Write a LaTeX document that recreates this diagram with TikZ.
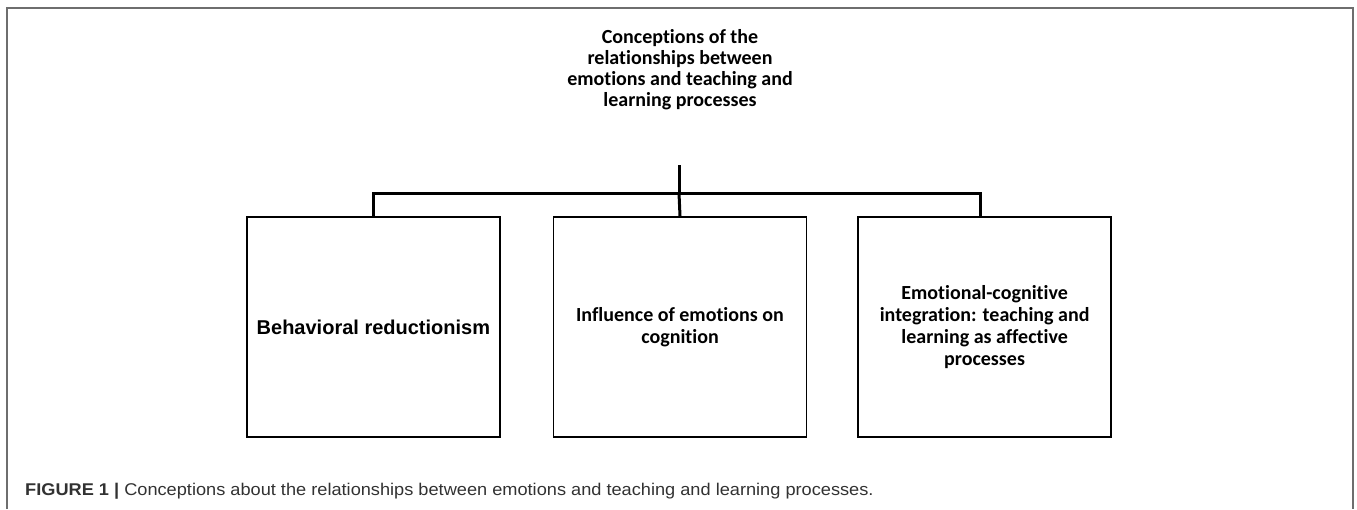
\documentclass[tikz,border=0pt]{standalone}
\usepackage{fontspec}
\setmainfont{Carlito}[Ligatures={NoCommon,NoRequired,NoContextual}]
\newfontfamily\arialfont{Liberation Sans}
\newfontfamily\capfont{Liberation Sans}[FakeStretch=1.07]
\usetikzlibrary{positioning}
\definecolor{framegray}{RGB}{110,110,110}
\definecolor{captext}{RGB}{50,50,50}
\tikzset{
concept/.style={
  rectangle,draw,line width=1.6pt,
  minimum width=253pt,minimum height=220pt,
  inner sep=0pt,align=center,
  font=\bfseries\fontsize{20}{22.3}\selectfont
},
heading/.style={align=center,inner sep=0pt,font=\bfseries\fontsize{20}{21}\selectfont},
branch/.style={line width=3pt},
capline/.style={anchor=west,inner sep=0pt,text=captext,font=\capfont\fontsize{17}{19}\selectfont},
}

\begin{document}
\begin{tikzpicture}[x=1pt,y=-1pt]
\useasboundingbox (0,0) rectangle (1357,509);
% the frame
\draw[framegray,line width=1.5pt] (7,509) -- (7,8) -- (1353,8) -- (1353,509);
% the heading
\node[heading] (top) at (680,70)
  {Conceptions of the\\relationships between\\emotions and teaching and\\learning processes};
% the boxes
\node[concept] (mid) at (680,327) {Influence of emotions on\\cognition};
\node[concept,left=52pt of mid,font=\arialfont\bfseries\fontsize{20}{22}\selectfont] (left)
  {Behavioral reductionism};
\node[concept,right=50pt of mid] (right)
  {Emotional-cognitive\\integration: teaching and\\learning as affective\\processes};
% the tree
\coordinate (stem) at (679,165);
\coordinate (fork) at (stem |- 0,193);
\coordinate (rightin) at ([xshift=-4pt]right.north);
\draw[branch] (stem) -- (fork);
\draw[branch] (left.north) |- (fork) -| (rightin);
\draw[branch] (fork) -- (mid.north);
% the caption
\node[capline] (cap) at (25,491)
  {\textbf{FIGURE 1} \textbf{|} Conceptions about the relationships between emotions and teaching and learning processes.};
\end{tikzpicture}
\end{document}
